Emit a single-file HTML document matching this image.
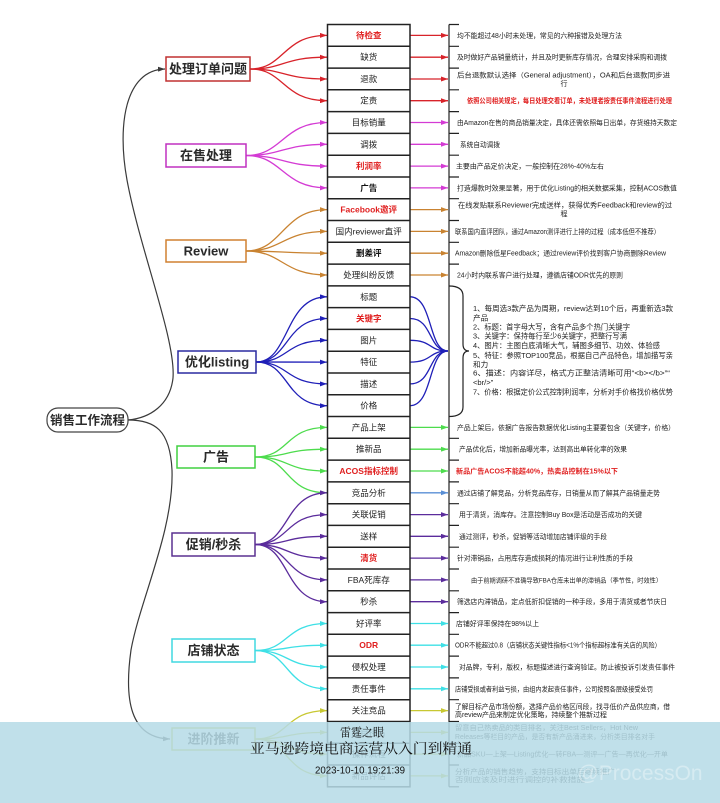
<!DOCTYPE html>
<html><head><meta charset="utf-8">
<style>
html,body{margin:0;padding:0;background:#fff;}
svg{display:block;font-family:"Liberation Sans","Noto Sans CJK SC",sans-serif;}
.rl{font-size:8.5px;fill:#222;text-anchor:middle;}
.rr{font-size:8.5px;fill:#e02020;text-anchor:middle;font-weight:bold;}
.rb{font-size:8.5px;fill:#111;text-anchor:middle;font-weight:bold;}
.t{font-size:7px;fill:#222;}
.tr{font-size:7px;fill:#e02020;font-weight:bold;}
.lt{font-size:7.6px;fill:#222;}
.cat{font-size:13px;font-weight:bold;fill:#2a2a2a;text-anchor:middle;}
</style></head>
<body>
<svg width="720" height="803" viewBox="0 0 720 803" xmlns="http://www.w3.org/2000/svg">
<defs>
<marker id="m-k" viewBox="0 0 7 5" refX="7" refY="2.5" markerWidth="7" markerHeight="5" markerUnits="userSpaceOnUse" orient="auto" preserveAspectRatio="none"><path d="M0,0L7,2.5L0,5z" fill="#3a3a3a"/></marker>
<marker id="m-r" viewBox="0 0 7 5" refX="7" refY="2.5" markerWidth="7" markerHeight="5" markerUnits="userSpaceOnUse" orient="auto" preserveAspectRatio="none"><path d="M0,0L7,2.5L0,5z" fill="#d8232a"/></marker>
<marker id="m-m" viewBox="0 0 7 5" refX="7" refY="2.5" markerWidth="7" markerHeight="5" markerUnits="userSpaceOnUse" orient="auto" preserveAspectRatio="none"><path d="M0,0L7,2.5L0,5z" fill="#d43bd4"/></marker>
<marker id="m-o" viewBox="0 0 7 5" refX="7" refY="2.5" markerWidth="7" markerHeight="5" markerUnits="userSpaceOnUse" orient="auto" preserveAspectRatio="none"><path d="M0,0L7,2.5L0,5z" fill="#c98331"/></marker>
<marker id="m-b" viewBox="0 0 7 5" refX="7" refY="2.5" markerWidth="7" markerHeight="5" markerUnits="userSpaceOnUse" orient="auto" preserveAspectRatio="none"><path d="M0,0L7,2.5L0,5z" fill="#1f1fb8"/></marker>
<marker id="m-g" viewBox="0 0 7 5" refX="7" refY="2.5" markerWidth="7" markerHeight="5" markerUnits="userSpaceOnUse" orient="auto" preserveAspectRatio="none"><path d="M0,0L7,2.5L0,5z" fill="#4ddc4d"/></marker>
<marker id="m-p" viewBox="0 0 7 5" refX="7" refY="2.5" markerWidth="7" markerHeight="5" markerUnits="userSpaceOnUse" orient="auto" preserveAspectRatio="none"><path d="M0,0L7,2.5L0,5z" fill="#5b2c9c"/></marker>
<marker id="m-c" viewBox="0 0 7 5" refX="7" refY="2.5" markerWidth="7" markerHeight="5" markerUnits="userSpaceOnUse" orient="auto" preserveAspectRatio="none"><path d="M0,0L7,2.5L0,5z" fill="#3ee0e6"/></marker>
<marker id="m-y" viewBox="0 0 7 5" refX="7" refY="2.5" markerWidth="7" markerHeight="5" markerUnits="userSpaceOnUse" orient="auto" preserveAspectRatio="none"><path d="M0,0L7,2.5L0,5z" fill="#c8c832"/></marker>
<marker id="m-s" viewBox="0 0 7 5" refX="7" refY="2.5" markerWidth="7" markerHeight="5" markerUnits="userSpaceOnUse" orient="auto" preserveAspectRatio="none"><path d="M0,0L7,2.5L0,5z" fill="#5a8fd6"/></marker>
</defs>

<!-- main curves -->
<g fill="none" stroke="#3a3a3a" stroke-width="1.2">
<path d="M128,420 C150,418 170,405 173,378 C176,340 140,250 127,180 C117,125 125,70 165,69" marker-end="url(#m-k)"/>
<path d="M128,420 C155,420 170,430 172,470 C174,530 140,600 131,650 C124,700 130,738 170,739" marker-end="url(#m-k)"/>
</g>

<!-- central node -->
<rect x="47" y="408" width="81" height="24" rx="11" fill="#fff" stroke="#444" stroke-width="1.2"/>
<text x="87.5" y="424.5" class="cat" style="font-size:12.5px">销售工作流程</text>

<!-- branch curves -->
<g fill="none" stroke-width="1.3">
<g stroke="#d8232a" marker-end="url(#m-r)">
<path d="M250,69 C285,69 282,35.4 327,35.4"/>
<path d="M250,69 C285,69 282,57.2 327,57.2"/>
<path d="M250,69 C285,69 282,79 327,79"/>
<path d="M250,69 C285,69 282,100.7 327,100.7"/>
</g>
<g stroke="#d43bd4" marker-end="url(#m-m)">
<path d="M246,155.5 C283,155.5 282,122.5 327,122.5"/>
<path d="M246,155.5 C283,155.5 282,144.3 327,144.3"/>
<path d="M246,155.5 C283,155.5 282,166.1 327,166.1"/>
<path d="M246,155.5 C283,155.5 282,187.9 327,187.9"/>
</g>
<g stroke="#c98331" marker-end="url(#m-o)">
<path d="M246,251 C283,251 282,209.6 327,209.6"/>
<path d="M246,251 C283,251 282,231.4 327,231.4"/>
<path d="M246,251 C283,251 282,253.2 327,253.2"/>
<path d="M246,251 C283,251 282,275 327,275"/>
</g>
<g stroke="#1f1fb8" marker-end="url(#m-b)">
<path d="M256,362 C290,362 284,296.8 327,296.8"/>
<path d="M256,362 C290,362 284,318.5 327,318.5"/>
<path d="M256,362 C290,362 284,340.3 327,340.3"/>
<path d="M256,362 C290,362 284,362.1 327,362.1"/>
<path d="M256,362 C290,362 284,383.9 327,383.9"/>
<path d="M256,362 C290,362 284,405.7 327,405.7"/>
</g>
<g stroke="#4ddc4d" marker-end="url(#m-g)">
<path d="M255,457 C290,457 284,427.4 327,427.4"/>
<path d="M255,457 C290,457 284,449.2 327,449.2"/>
<path d="M255,457 C290,457 284,471 327,471"/>
<path d="M255,457 C290,457 284,492.8 327,492.8"/>
</g>
<g stroke="#5b2c9c" marker-end="url(#m-p)">
<path d="M255,544.5 C290,544.5 284,492.8 327,492.8"/>
<path d="M255,544.5 C290,544.5 284,514.6 327,514.6"/>
<path d="M255,544.5 C290,544.5 284,536.3 327,536.3"/>
<path d="M255,544.5 C290,544.5 284,558.1 327,558.1"/>
<path d="M255,544.5 C290,544.5 284,579.9 327,579.9"/>
<path d="M255,544.5 C290,544.5 284,601.7 327,601.7"/>
</g>
<g stroke="#3ee0e6" marker-end="url(#m-c)">
<path d="M255,650.5 C290,650.5 284,623.5 327,623.5"/>
<path d="M255,650.5 C290,650.5 284,645.2 327,645.2"/>
<path d="M255,650.5 C290,650.5 284,667 327,667"/>
<path d="M255,650.5 C290,650.5 284,688.8 327,688.8"/>
</g>
<g stroke="#c8c832" marker-end="url(#m-y)">
<path d="M255,739 C290,739 284,710.6 327,710.6"/>
<path d="M255,739 C290,739 284,732.4 327,732.4"/>
<path d="M255,739 C290,739 284,754.1 327,754.1"/>
<path d="M255,739 C290,739 284,775.9 327,775.9"/>
</g>

<!-- right arrows -->
<g stroke="#d8232a" marker-end="url(#m-r)">
<path d="M410,35.4H448"/><path d="M410,57.2H448"/><path d="M410,79H448"/><path d="M410,100.7H448"/>
</g>
<g stroke="#d43bd4" marker-end="url(#m-m)">
<path d="M410,122.5H448"/><path d="M410,144.3H448"/><path d="M410,166.1H448"/><path d="M410,187.9H448"/>
</g>
<g stroke="#c98331" marker-end="url(#m-o)">
<path d="M410,209.6H448"/><path d="M410,231.4H448"/><path d="M410,253.2H448"/><path d="M410,275H448"/>
</g>
<g stroke="#1f1fb8" marker-end="url(#m-b)">
<path d="M410,296.8 C433,296.8 428,351 448,351"/>
<path d="M410,318.5 C433,318.5 428,351 448,351"/>
<path d="M410,340.3 C433,340.3 428,351 448,351"/>
<path d="M410,362.1 C433,362.1 428,351 448,351"/>
<path d="M410,383.9 C433,383.9 428,351 448,351"/>
<path d="M410,405.7 C433,405.7 428,351 448,351"/>
</g>
<g stroke="#4ddc4d" marker-end="url(#m-g)">
<path d="M410,427.4H448"/><path d="M410,449.2H448"/><path d="M410,471H448"/>
</g>
<path d="M410,492.8H448" stroke="#5a8fd6" marker-end="url(#m-s)"/>
<g stroke="#5b2c9c" marker-end="url(#m-p)">
<path d="M410,514.6H448"/><path d="M410,536.3H448"/><path d="M410,558.1H448"/><path d="M410,579.9H448"/><path d="M410,601.7H448"/>
</g>
<g stroke="#3ee0e6" marker-end="url(#m-c)">
<path d="M410,623.5H448"/><path d="M410,645.2H448"/><path d="M410,667H448"/><path d="M410,688.8H448"/>
</g>
<g stroke="#c8c832" marker-end="url(#m-y)">
<path d="M410,710.6H448"/><path d="M410,732.4H448"/><path d="M410,754.1H448"/><path d="M410,775.9H448"/>
</g>
</g>

<!-- category nodes -->
<rect x="166" y="57" width="84" height="24" fill="#fff" stroke="#c03030" stroke-width="1.5"/>
<text x="208" y="73.5" class="cat">处理订单问题</text>
<rect x="166" y="144" width="80" height="23" fill="#fff" stroke="#c030c0" stroke-width="1.5"/>
<text x="206" y="160" class="cat">在售处理</text>
<rect x="166" y="240" width="80" height="22" fill="#fff" stroke="#d08030" stroke-width="1.5"/>
<text x="206" y="255.5" class="cat">Review</text>
<rect x="178" y="351" width="78" height="22" fill="#fff" stroke="#2a2aa0" stroke-width="1.5"/>
<text x="217" y="366.5" class="cat">优化listing</text>
<rect x="177" y="446" width="78" height="22" fill="#fff" stroke="#40d040" stroke-width="1.5"/>
<text x="216" y="461.5" class="cat">广告</text>
<rect x="172" y="533" width="83" height="23" fill="#fff" stroke="#5a3090" stroke-width="1.5"/>
<text x="213.5" y="549" class="cat">促销/秒杀</text>
<rect x="172" y="639" width="83" height="23" fill="#fff" stroke="#40d8e0" stroke-width="1.5"/>
<text x="213.5" y="655" class="cat">店铺状态</text>
<rect x="172" y="728" width="83" height="22" fill="#fff" stroke="#c8c832" stroke-width="1.5"/>
<text x="213.5" y="743.5" class="cat">进阶推新</text>

<!-- table -->
<rect x="327.5" y="24.5" width="82.5" height="762.3" fill="#fff" stroke="#222" stroke-width="1.5"/>
<g stroke="#222" stroke-width="1.5">
<path d="M327.5,46.3H410M327.5,68.1H410M327.5,89.8H410M327.5,111.6H410M327.5,133.4H410M327.5,155.2H410M327.5,177H410M327.5,198.7H410M327.5,220.5H410M327.5,242.3H410M327.5,264.1H410M327.5,285.9H410M327.5,307.6H410M327.5,329.4H410M327.5,351.2H410M327.5,373H410M327.5,394.8H410M327.5,416.5H410M327.5,438.3H410M327.5,460.1H410M327.5,481.9H410M327.5,503.7H410M327.5,525.4H410M327.5,547.2H410M327.5,569H410M327.5,590.8H410M327.5,612.6H410M327.5,634.3H410M327.5,656.1H410M327.5,677.9H410M327.5,699.7H410M327.5,721.5H410M327.5,743.2H410M327.5,765H410"/>
</g>

<!-- row labels -->
<text x="368.7" y="38.4" class="rr">待检查</text>
<text x="368.7" y="60.2" class="rl">缺货</text>
<text x="368.7" y="82" class="rl">退款</text>
<text x="368.7" y="103.7" class="rl">定责</text>
<text x="368.7" y="125.5" class="rl">目标销量</text>
<text x="368.7" y="147.3" class="rl">调拨</text>
<text x="368.7" y="169.1" class="rr">利润率</text>
<text x="368.7" y="190.9" class="rb">广告</text>
<text x="368.7" y="212.6" class="rr">Facebook邀评</text>
<text x="368.7" y="234.4" class="rl">国内reviewer直评</text>
<text x="368.7" y="256.2" class="rb">删差评</text>
<text x="368.7" y="278" class="rl">处理纠纷反馈</text>
<text x="368.7" y="299.8" class="rl">标题</text>
<text x="368.7" y="321.5" class="rr">关键字</text>
<text x="368.7" y="343.3" class="rl">图片</text>
<text x="368.7" y="365.1" class="rl">特征</text>
<text x="368.7" y="386.9" class="rl">描述</text>
<text x="368.7" y="408.7" class="rl">价格</text>
<text x="368.7" y="430.4" class="rl">产品上架</text>
<text x="368.7" y="452.2" class="rl">推新品</text>
<text x="368.7" y="474" class="rr">ACOS指标控制</text>
<text x="368.7" y="495.8" class="rl">竞品分析</text>
<text x="368.7" y="517.6" class="rl">关联促销</text>
<text x="368.7" y="539.3" class="rl">送样</text>
<text x="368.7" y="561.1" class="rr">清货</text>
<text x="368.7" y="582.9" class="rl">FBA死库存</text>
<text x="368.7" y="604.7" class="rl">秒杀</text>
<text x="368.7" y="626.5" class="rl">好评率</text>
<text x="368.7" y="648.2" class="rr">ODR</text>
<text x="368.7" y="670" class="rl">侵权处理</text>
<text x="368.7" y="691.8" class="rl">责任事件</text>
<text x="368.7" y="713.6" class="rl">关注竞品</text>
<text x="368.7" y="735.4" class="rl">类目排名</text>
<text x="368.7" y="757.1" class="rl">操作流程</text>
<text x="368.7" y="778.9" class="rl">新品评估</text>

<!-- right column line, ticks, brace -->
<g stroke="#222" stroke-width="1.2" fill="none">
<path d="M449,24.5V786.8"/>
<path d="M449,24.5H459M449,46.3H459M449,68.1H459M449,89.8H459M449,111.6H459M449,133.4H459M449,155.2H459M449,177H459M449,198.7H459M449,220.5H459M449,242.3H459M449,264.1H459M449,438.3H459M449,460.1H459M449,481.9H459M449,503.7H459M449,525.4H459M449,547.2H459M449,569H459M449,590.8H459M449,612.6H459M449,634.3H459M449,656.1H459M449,677.9H459M449,699.7H459M449,721.5H459M449,743.2H459M449,765H459M449,786.8H459"/>
<path d="M449,286 Q463,286 463,296 L463,344 Q463,351 469,351 Q463,351 463,358 L463,407 Q463,416.5 449,416.5"/>
</g>

<!-- right texts -->
<text x="457" y="37.9" class="t" textLength="165" lengthAdjust="spacingAndGlyphs">均不能超过48小时未处理，常见的六种报错及处理方法</text>
<text x="457" y="59.7" class="t" textLength="210" lengthAdjust="spacingAndGlyphs">及时做好产品销量统计，并且及时更新库存情况，合理安排采购和调拨</text>
<text x="457" y="77.5" class="t" textLength="213" lengthAdjust="spacingAndGlyphs">后台退款默认选择（General adjustment），OA和后台退款同步进</text>
<text x="564" y="86" class="t" text-anchor="middle">行</text>
<text x="467" y="103.2" class="tr" textLength="205" lengthAdjust="spacingAndGlyphs">依照公司相关规定，每日处理交看订单，未处理者按责任事件流程进行处理</text>
<text x="457" y="125" class="t" textLength="220" lengthAdjust="spacingAndGlyphs">由Amazon在售的商品销量决定，具体还需依照每日出单，存货维持天数定</text>
<text x="460" y="146.8" class="t" textLength="40" lengthAdjust="spacingAndGlyphs">系统自动调拨</text>
<text x="456" y="168.6" class="t" textLength="148" lengthAdjust="spacingAndGlyphs">主要由产品定价决定，一般控制在28%-40%左右</text>
<text x="457" y="190.4" class="t" textLength="220" lengthAdjust="spacingAndGlyphs">打造爆款时效果显著，用于优化Listing的相关数据采集，控制ACOS数值</text>
<text x="458" y="207.5" class="t" textLength="214" lengthAdjust="spacingAndGlyphs">在线发贴联系Reviewer完成送样，获得优秀Feedback和review的过</text>
<text x="564" y="216" class="t" text-anchor="middle">程</text>
<text x="455" y="233.9" class="t" textLength="205" lengthAdjust="spacingAndGlyphs">联系国内直评团队，通过Amazon测评进行上排的过程（成本低但不推荐）</text>
<text x="455" y="255.7" class="t" textLength="211" lengthAdjust="spacingAndGlyphs">Amazon删除低星Feedback；通过review评价找到客户协商删除Review</text>
<text x="457" y="277.5" class="t" textLength="166" lengthAdjust="spacingAndGlyphs">24小时内联系客户进行处理，遵循店铺ODR优先的原则</text>

<text x="473" y="311" class="lt" textLength="200" lengthAdjust="spacingAndGlyphs">1、每周选3款产品为周期，review达到10个后，再重新选3款</text>
<text x="473" y="320.7" class="lt">产品</text>
<text x="473" y="329.7" class="lt" textLength="157" lengthAdjust="spacingAndGlyphs">2、标题：首字母大写，含有产品多个热门关键字</text>
<text x="473" y="338.7" class="lt" textLength="154" lengthAdjust="spacingAndGlyphs">3、关键字：保持每行至少6关键字，把整行写满</text>
<text x="473" y="348" class="lt" textLength="187" lengthAdjust="spacingAndGlyphs">4、图片：主图白底清晰大气，辅图多细节、功效、体验感</text>
<text x="473" y="358" class="lt" textLength="200" lengthAdjust="spacingAndGlyphs">5、特征：参照TOP100竞品，根据自己产品特色，增加描写亲</text>
<text x="473" y="367" class="lt">和力</text>
<text x="473" y="375.7" class="lt" textLength="197" lengthAdjust="spacingAndGlyphs">6、描述：内容详尽，格式方正整洁清晰可用“&lt;b&gt;&lt;/b&gt;”“</text>
<text x="473" y="385" class="lt">&lt;br/&gt;”</text>
<text x="473" y="394.7" class="lt" textLength="200" lengthAdjust="spacingAndGlyphs">7、价格：根据定价公式控制利润率，分析对手价格找价格优势</text>

<text x="457" y="429.9" class="t" textLength="218" lengthAdjust="spacingAndGlyphs">产品上架后，依据广告报告数据优化Listing主要要包含（关键字，价格）</text>
<text x="459" y="451.7" class="t" textLength="168" lengthAdjust="spacingAndGlyphs">产品优化后，增加新品曝光率，达到高出单转化率的效果</text>
<text x="456" y="473.5" class="tr" textLength="162" lengthAdjust="spacingAndGlyphs">新品广告ACOS不能超40%，热卖品控制在15%以下</text>
<text x="457" y="495.3" class="t" textLength="203" lengthAdjust="spacingAndGlyphs">通过店铺了解竞品，分析竞品库存，日销量从而了解其产品销量走势</text>
<text x="459" y="517" class="t" textLength="183" lengthAdjust="spacingAndGlyphs">用于清货，消库存。注意控制Buy Box是活动是否成功的关键</text>
<text x="459" y="538.8" class="t" textLength="148" lengthAdjust="spacingAndGlyphs">通过测评，秒杀，促销等活动增加店铺评级的手段</text>
<text x="457" y="560.6" class="t" textLength="176" lengthAdjust="spacingAndGlyphs">针对滞销品，占用库存造成损耗的情况进行让利性质的手段</text>
<text x="471" y="582.4" class="t" style="font-size:6.3px" textLength="191" lengthAdjust="spacingAndGlyphs">由于前期调研不准确导致FBA仓库未出单的滞销品（季节性，时效性）</text>
<text x="457" y="604.2" class="t" textLength="210" lengthAdjust="spacingAndGlyphs">筛选店内滞销品，定点低折扣促销的一种手段，多用于清货或者节庆日</text>
<text x="456" y="626" class="t" textLength="83" lengthAdjust="spacingAndGlyphs">店铺好评率保持在98%以上</text>
<text x="455" y="647.7" class="t" textLength="206" lengthAdjust="spacingAndGlyphs">ODR不能超过0.8（店铺状态关键性指标&lt;1%个指标超标准有关店的风险）</text>
<text x="459" y="669.5" class="t" textLength="216" lengthAdjust="spacingAndGlyphs">对品牌，专利，版权，标题描述进行查询验证。防止被投诉引发责任事件</text>
<text x="455" y="691.3" class="t" textLength="198" lengthAdjust="spacingAndGlyphs">店铺受损或者利益亏损，由组内发起责任事件，公司按照各层级接受处罚</text>
<text x="455" y="709" class="t" textLength="215" lengthAdjust="spacingAndGlyphs">了解目标产品市场份额，选择产品价格区间段，找寻低价产品供应商，借</text>
<text x="455" y="717" class="t" textLength="152" lengthAdjust="spacingAndGlyphs">高review产品来制定优化策略，持续整个推新过程</text>
<text x="455" y="730" class="t" textLength="183" lengthAdjust="spacingAndGlyphs">留意自己热卖品的类目排名，关注Best Sellers，Hot New</text>
<text x="455" y="739" class="t" textLength="200" lengthAdjust="spacingAndGlyphs">Releases等栏目的产品，是否有新产品涌进来，分析类目排名对手</text>
<text x="457" y="756.6" class="t" textLength="211" lengthAdjust="spacingAndGlyphs">新品SKU—上架—Listing优化—转FBA—测评—广告—再优化—开单</text>
<text x="455" y="774" class="t" textLength="160" lengthAdjust="spacingAndGlyphs">分析产品的销售趋势，支持目标出单后继续推广</text>
<text x="455" y="782" class="t" textLength="130" lengthAdjust="spacingAndGlyphs">否则应该及时进行调控的补救措施</text>

<!-- watermark overlay band -->
<rect x="0" y="722" width="720" height="81" fill="#b6dbe6" fill-opacity="0.86"/>
<text x="640" y="780" text-anchor="middle" style="font-size:21px;fill:#ffffff;fill-opacity:0.35;font-family:'Liberation Sans',sans-serif">@ProcessOn</text>
<text x="362" y="736.5" text-anchor="middle" style="font-size:12px;fill:#111;font-family:'Liberation Sans','Noto Serif CJK SC',serif" textLength="44" lengthAdjust="spacingAndGlyphs">雷霆之眼</text>
<text x="250" y="753.5" style="font-size:14px;fill:#111;font-family:'Liberation Sans','Noto Serif CJK SC',serif" textLength="222" lengthAdjust="spacingAndGlyphs">亚马逊跨境电商运营从入门到精通</text>
<text x="315" y="773.5" style="font-size:10px;fill:#111;font-family:'Liberation Sans',sans-serif" textLength="90" lengthAdjust="spacingAndGlyphs">2023-10-10 19:21:39</text>
</svg>
</body></html>
